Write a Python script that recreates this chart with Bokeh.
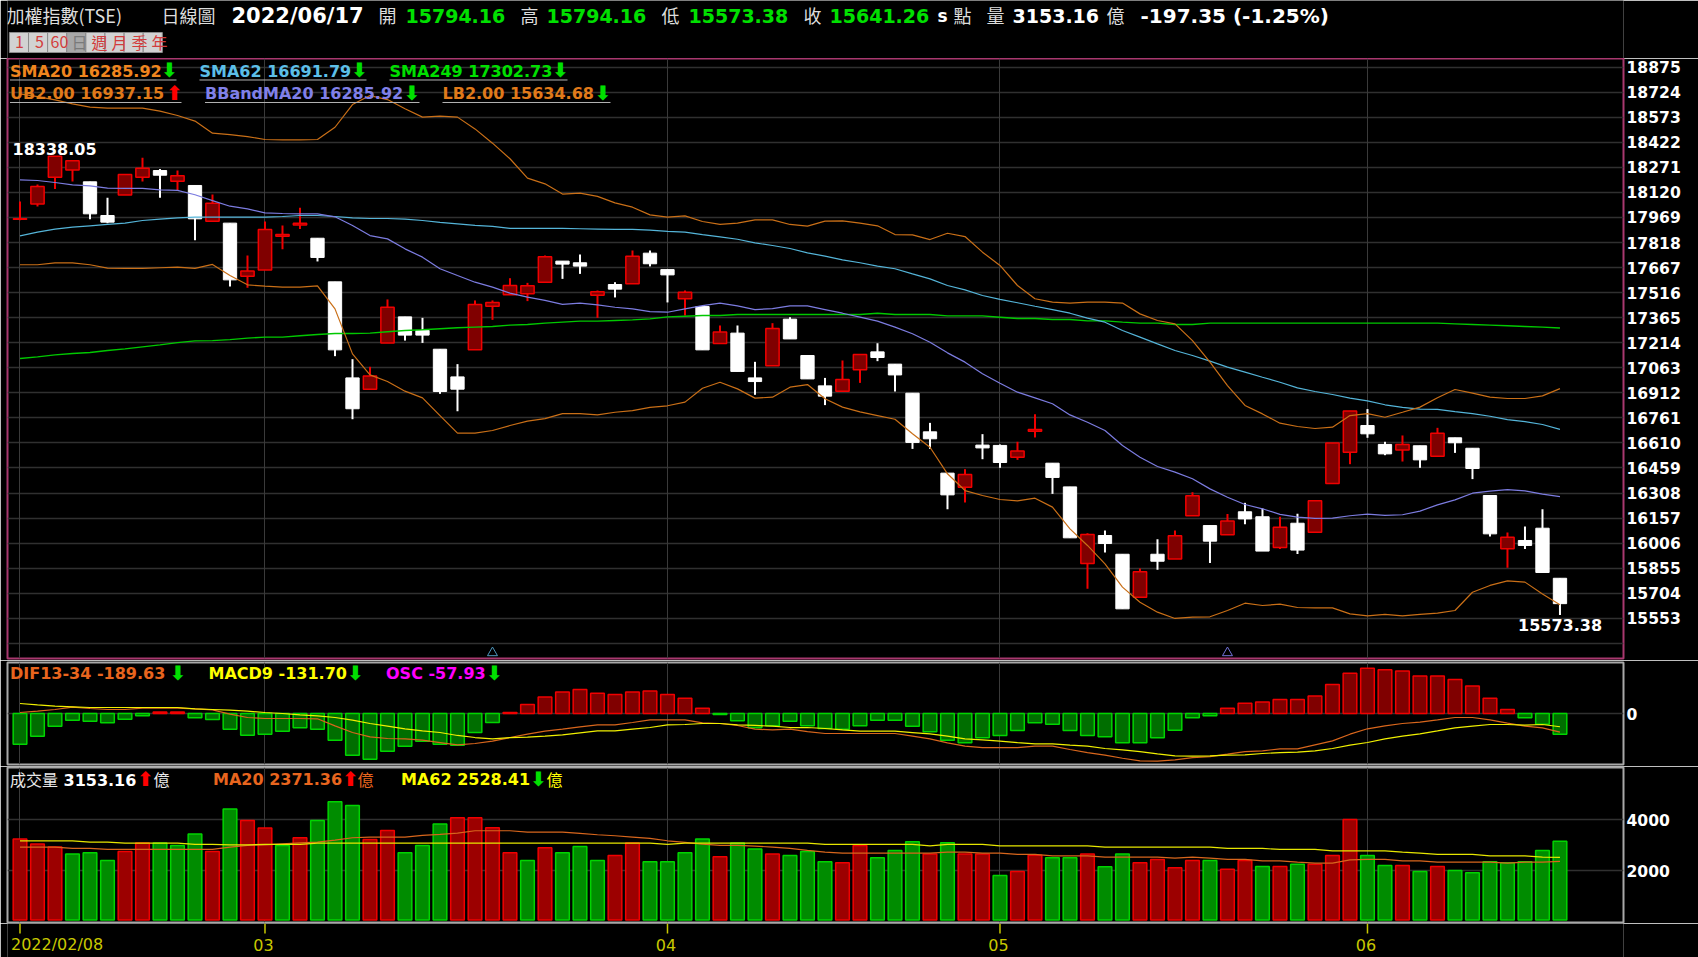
from bokeh.plotting import figure
from bokeh.layouts import column
from bokeh.models import Label, Range1d, FixedTicker, Grid
from bokeh.embed import file_html
from bokeh.resources import INLINE

# daily candles, 2022/02/08 - 2022/06/17
opens = [17958, 18051, 18212, 18256, 18184, 17981, 18104, 18212, 18252, 18188,
         18162, 17947, 17935, 17615, 17653, 17856, 17923, 17844, 17581, 17002,
         16934, 17213, 17370, 17288, 17175, 17008, 17171, 17434, 17503, 17509,
         17579, 17706, 17696, 17501, 17565, 17569, 17754, 17655, 17479, 17432,
         17209, 17272, 17002, 17075, 17356, 17137, 16954, 16922, 17051, 17159,
         17085, 16910, 16677, 16428, 16343, 16597, 16595, 16524, 16681, 16488,
         16345, 15883, 16052, 15939, 15680, 15939, 15911, 16171, 16112, 16056,
         16195, 16165, 15980, 16126, 16072, 16365, 16554, 16715, 16601, 16568,
         16593, 16530, 16641, 16578, 16293, 15972, 16022, 16096, 15794.16]
highs = [18065, 18168, 18338.05, 18311, 18184, 18088, 18228, 18329, 18262, 18252,
         18162, 18108, 17935, 17740, 17945, 17921, 18027, 17844, 17581, 17115,
         17069, 17475, 17370, 17364, 17175, 17085, 17469, 17469, 17603, 17575,
         17740, 17706, 17746, 17529, 17579, 17770, 17770, 17655, 17529, 17432,
         17318, 17318, 17099, 17332, 17368, 17137, 17002, 17107, 17143, 17211,
         17085, 16910, 16731, 16428, 16452, 16663, 16601, 16617, 16783, 16488,
         16345, 16066, 16082, 15939, 15853, 16030, 16082, 16313, 16112, 16181,
         16249, 16215, 16165, 16183, 16261, 16609, 16803, 16814, 16617, 16655,
         16593, 16701, 16641, 16578, 16293, 16070, 16106, 16211, 15794.16]
lows = [17953, 18035, 18140, 18186, 17959, 17935, 18104, 18186, 18088, 18128,
        17832, 17947, 17553, 17545, 17653, 17778, 17899, 17704, 17133, 16753,
        16934, 17213, 17227, 17213, 16906, 16801, 17171, 17352, 17503, 17465,
        17579, 17599, 17629, 17364, 17487, 17569, 17674, 17457, 17378, 17171,
        17209, 17041, 16900, 17075, 17237, 16996, 16838, 16922, 16972, 17103,
        16920, 16574, 16574, 16211, 16251, 16512, 16460, 16508, 16643, 16303,
        16038, 15731, 15950, 15610, 15680, 15845, 15911, 16171, 15887, 16056,
        16120, 15958, 15970, 15941, 16072, 16365, 16482, 16641, 16536, 16498,
        16460, 16530, 16550, 16392, 16046, 15857, 15970, 15829, 15573.38]
closes = [17962, 18156, 18338, 18311, 17991, 17941, 18228, 18266, 18224, 18220,
          17961, 18055, 17593, 17647, 17897, 17866, 17935, 17728, 17171, 16816,
          17014, 17428, 17260, 17260, 16920, 16934, 17445, 17457, 17559, 17557,
          17732, 17688, 17676, 17521, 17537, 17736, 17690, 17623, 17519, 17171,
          17278, 17041, 16980, 17300, 17237, 16996, 16892, 16992, 17143, 17125,
          17020, 16613, 16635, 16297, 16420, 16580, 16492, 16562, 16691, 16402,
          16038, 16058, 16004, 15610, 15833, 15897, 16050, 16291, 16018, 16140,
          16152, 15958, 16102, 15964, 16261, 16609, 16803, 16665, 16544, 16601,
          16508, 16669, 16611, 16456, 16062, 16042, 15992, 15829, 15641.26]

ub = [18714, 18698, 18678, 18654, 18634, 18628, 18628, 18628, 18610, 18584,
      18550, 18477, 18469, 18457, 18439, 18437, 18437, 18439, 18513, 18650,
      18704, 18680, 18624, 18574, 18580, 18574, 18503, 18417, 18323, 18206,
      18172, 18110, 18116, 18096, 18057, 18031, 17985, 17971, 17979, 17945,
      17927, 17935, 17955, 17955, 17927, 17917, 17947, 17949, 17935, 17919,
      17866, 17864, 17836, 17874, 17854, 17760, 17680, 17559, 17479, 17459,
      17453, 17459, 17459, 17453, 17388, 17348, 17328, 17227, 17097, 16956,
      16836, 16785, 16729, 16709, 16697, 16705, 16775, 16787, 16765, 16795,
      16826, 16882, 16932, 16910, 16886, 16878, 16878, 16894, 16937.15]
lb = [17684, 17684, 17696, 17696, 17684, 17664, 17662, 17662, 17666, 17670,
      17662, 17686, 17619, 17563, 17555, 17549, 17549, 17557, 17418, 17147,
      17020, 16980, 16922, 16882, 16775, 16669, 16669, 16685, 16715, 16741,
      16757, 16787, 16787, 16779, 16795, 16805, 16824, 16834, 16856, 16940,
      16976, 16936, 16880, 16886, 16946, 16962, 16876, 16826, 16797, 16775,
      16753, 16665, 16584, 16424, 16323, 16293, 16269, 16261, 16277, 16223,
      16092, 15992, 15881, 15741, 15650, 15590, 15552, 15560, 15562, 15600,
      15644, 15630, 15638, 15618, 15616, 15616, 15580, 15568, 15576, 15568,
      15576, 15584, 15600, 15710, 15751, 15779, 15771, 15700, 15634.68]
sma20 = [18196, 18192, 18180, 18166, 18160, 18146, 18144, 18144, 18136, 18132,
         18106, 18071, 18037, 18021, 17997, 17993, 17991, 17991, 17973, 17921,
         17860, 17840, 17780, 17730, 17660, 17619, 17579, 17549, 17513, 17489,
         17469, 17445, 17453, 17442, 17428, 17418, 17402, 17398, 17418, 17438,
         17453, 17436, 17414, 17420, 17436, 17436, 17414, 17392, 17368, 17344,
         17308, 17268, 17217, 17153, 17097, 17027, 16970, 16916, 16882, 16846,
         16779, 16735, 16685, 16595, 16524, 16468, 16434, 16394, 16333, 16283,
         16239, 16213, 16179, 16163, 16155, 16157, 16171, 16181, 16173, 16177,
         16199, 16237, 16267, 16307, 16319, 16329, 16321, 16301, 16285.92]
sma62 = [17858, 17881, 17899, 17911, 17919, 17927, 17935, 17951, 17959, 17967,
         17971, 17971, 17971, 17971, 17971, 17975, 17981, 17981, 17975, 17967,
         17963, 17963, 17959, 17951, 17939, 17931, 17921, 17915, 17903, 17903,
         17903, 17903, 17901, 17899, 17897, 17897, 17893, 17885, 17881, 17866,
         17852, 17838, 17816, 17800, 17782, 17756, 17736, 17714, 17696, 17676,
         17660, 17629, 17599, 17559, 17533, 17499, 17475, 17455, 17434, 17414,
         17392, 17362, 17338, 17288, 17248, 17207, 17167, 17137, 17103, 17067,
         17037, 17006, 16976, 16942, 16920, 16902, 16880, 16864, 16840, 16824,
         16814, 16812, 16799, 16787, 16771, 16751, 16739, 16721, 16691.79]
sma249 = [17119, 17129, 17141, 17149, 17155, 17167, 17177, 17189, 17201, 17215,
          17225, 17227, 17233, 17242, 17248, 17248, 17256, 17264, 17270, 17270,
          17272, 17280, 17288, 17292, 17298, 17304, 17308, 17312, 17320, 17324,
          17332, 17338, 17344, 17344, 17348, 17352, 17358, 17370, 17374, 17378,
          17378, 17384, 17384, 17384, 17384, 17384, 17384, 17384, 17384, 17392,
          17384, 17384, 17384, 17376, 17376, 17376, 17368, 17360, 17360, 17354,
          17354, 17346, 17346, 17338, 17332, 17332, 17324, 17324, 17332, 17332,
          17332, 17332, 17332, 17332, 17332, 17332, 17332, 17332, 17332, 17332,
          17332, 17332, 17328, 17324, 17320, 17316, 17312, 17308, 17302.73]

dif = [10, 24, 41, 65, 51, 41, 41, 54, 58, 54,
       48, 37, -7, -41, -51, -51, -51, -54, -126, -194,
       -238, -255, -258, -272, -296, -320, -306, -282, -245, -211,
       -180, -160, -136, -116, -116, -92, -65, -65, -65, -95,
       -102, -122, -160, -167, -160, -184, -204, -204, -204, -204,
       -204, -231, -258, -299, -333, -347, -347, -347, -333, -333,
       -367, -398, -425, -456, -483, -486, -473, -449, -439, -415,
       -388, -381, -360, -360, -320, -279, -211, -156, -126, -102,
       -88, -65, -41, -41, -65, -99, -129, -146, -189.63]
macd = [102, 88, 75, 68, 61, 61, 61, 61, 61, 61,
        48, 41, 34, 24, 10, 0, -14, -24, -41, -68,
        -102, -129, -156, -177, -194, -224, -245, -258, -245, -241,
        -231, -218, -197, -177, -177, -160, -143, -116, -112, -102,
        -102, -116, -122, -129, -143, -143, -153, -167, -180, -180,
        -180, -194, -207, -231, -258, -269, -282, -296, -309, -309,
        -323, -333, -357, -371, -388, -411, -432, -435, -432, -425,
        -422, -408, -398, -394, -381, -357, -323, -296, -258, -231,
        -207, -177, -146, -129, -112, -112, -119, -112, -135]
osc = [-86, -64, -36, -19, -22, -26, -16, -6, 4, 4,
       -12, -17, -44, -61, -58, -50, -40, -44, -75, -117,
       -128, -106, -92, -78, -86, -89, -53, -25, 3, 25,
       46, 60, 67, 57, 53, 60, 63, 53, 43, 15,
       -3, -20, -40, -34, -22, -34, -42, -44, -34, -19,
       -19, -36, -51, -75, -82, -68, -62, -48, -26, -30,
       -48, -62, -65, -82, -82, -68, -47, -12, -6, 15,
       29, 32, 39, 39, 49, 81, 113, 127, 123, 119,
       105, 105, 95, 77, 43, 11, -12, -30, -57.93]

volume = [3237, 3042, 2925, 2652, 2704, 2405, 2756, 3081, 3081, 2990,
          3432, 2756, 4407, 3965, 3666, 2990, 3289, 3965, 4693, 4550,
          3224, 3575, 2704, 2990, 3822, 4069, 4069, 3679, 2704, 2405,
          2899, 2704, 2951, 2405, 2600, 3081, 2353, 2353, 2704, 3237,
          2548, 3081, 2847, 2652, 2600, 2756, 2353, 2314, 2990, 2509,
          2795, 3133, 2652, 3094, 2652, 2652, 1820, 1976, 2613, 2509,
          2509, 2652, 2158, 2652, 2314, 2444, 2119, 2405, 2405, 2067,
          2405, 2171, 2171, 2262, 2262, 2600, 4004, 2600, 2210, 2210,
          1976, 2171, 2015, 1924, 2353, 2314, 2353, 2795, 3153.16]
vol_side = ("RRRGGGRRGG" "GRGRRGRGGG" "RRGGGRRRRG" "RGGGRRGGGG" "RGGRGGGRRG"
            "GGRGRRGRRG" "GRGGRRRRGR" "RGRGRRRGGR" "GRGGGGGGG")
vol_ma20 = [2925, 2925, 2925, 2873, 2873, 2834, 2834, 2834, 2834, 2834,
            2834, 2834, 2925, 2990, 3016, 3055, 3094, 3120, 3198, 3289,
            3315, 3315, 3315, 3380, 3419, 3471, 3562, 3562, 3562, 3510,
            3510, 3510, 3458, 3406, 3367, 3315, 3263, 3172, 3107, 3042,
            2990, 2990, 2964, 2925, 2873, 2795, 2730, 2691, 2691, 2691,
            2691, 2691, 2691, 2730, 2730, 2691, 2691, 2639, 2639, 2587,
            2587, 2587, 2535, 2535, 2535, 2535, 2496, 2535, 2496, 2444,
            2444, 2392, 2392, 2340, 2301, 2301, 2431, 2444, 2444, 2392,
            2392, 2340, 2340, 2340, 2340, 2301, 2340, 2340, 2371.36]
vol_ma62 = [3172, 3172, 3172, 3172, 3120, 3120, 3081, 3081, 3081, 3081,
            3029, 3029, 3016, 3016, 3029, 3029, 3029, 3081, 3081, 3081,
            3081, 3081, 3081, 3081, 3081, 3081, 3081, 3081, 3081, 3081,
            3081, 3081, 3081, 3081, 3081, 3081, 3081, 3029, 3081, 3081,
            3081, 3081, 3081, 3081, 3081, 3081, 3029, 3029, 3029, 3029,
            3029, 3029, 2977, 3029, 3029, 3029, 2977, 2977, 2977, 2977,
            2977, 2977, 2925, 2925, 2925, 2925, 2925, 2925, 2925, 2873,
            2873, 2873, 2834, 2834, 2834, 2782, 2782, 2782, 2782, 2730,
            2691, 2639, 2639, 2639, 2587, 2587, 2587, 2535, 2528.41]

price_ticks = [18875, 18724, 18573, 18422, 18271, 18120, 17969, 17818, 17667, 17516, 17365,
               17214, 17063, 16912, 16761, 16610, 16459, 16308, 16157, 16006, 15855, 15704, 15553]
volume_ticks = [2000, 4000]
month_idx = [0, 14, 37, 56, 77]
month_names = ["2022/02/08", "03", "04", "05", "06"]
cross_idx = [27, 69]
cross_colors = ["#4f97bd", "#7272d8"]
period_buttons = ["1", "5", "60", "日", "週", "月", "季", "年"]

n = len(closes)
idx = list(range(n))

BOLD = "DejaVu Sans"
CJK = "Noto Sans CJK TC"
ORANGE = "#c96f17"
GRID = "#303030"
OLIVE = "#c8c800"
WIDTH = 1698
LEFT = 7
GREEN = "#00e000"
X_RANGE = (-0.714, 91.63)


def put(p, bottom, text, rx, ry, color, size=16, font=BOLD, style="bold", align="left"):
    # rx, ry are page pixels, bottom is the page y of the frame's bottom
    p.add_layout(Label(x=rx - LEFT, y=bottom - ry, x_units="screen", y_units="screen", text=text,
                       text_color=color, text_font=font, text_font_style=style,
                       text_font_size=f"{size}px", text_align=align, text_baseline="middle"))


def panel(height, y_range, top, bottom, outline):
    p = figure(width=WIDTH, height=height, output_backend="svg", toolbar_location=None,
               x_range=Range1d(*X_RANGE), y_range=y_range, y_axis_location="right", x_axis_type=None,
               min_border_left=LEFT, min_border_right=75, min_border_top=top, min_border_bottom=bottom,
               background_fill_color="black", border_fill_color="black",
               outline_line_color=outline, outline_line_width=2)
    p.yaxis.axis_line_color = None
    p.yaxis.major_tick_line_color = None
    p.yaxis.minor_tick_line_color = None
    p.yaxis.major_label_text_color = "white"
    p.yaxis.major_label_text_font = BOLD
    p.yaxis.major_label_text_font_style = "bold"
    p.yaxis.major_label_text_font_size = "15.6px"
    p.yaxis.major_label_standoff = -3
    p.ygrid.grid_line_color = GRID
    p.ygrid.grid_line_width = 1.5
    p.add_layout(Grid(dimension=0, ticker=FixedTicker(ticks=month_idx), grid_line_color="#3a3a3a", grid_line_width=1))
    return p


def strip(height, x_range, y_range, right):
    p = figure(width=WIDTH, height=height, output_backend="svg", toolbar_location=None,
               x_range=Range1d(*x_range), y_range=y_range, x_axis_type=None, y_axis_type=None,
               min_border_left=LEFT, min_border_right=right, min_border_top=0, min_border_bottom=0,
               background_fill_color="black", border_fill_color="black",
               outline_line_color=None, outline_line_alpha=0, outline_line_width=0)
    p.grid.visible = False
    return p


# header strip
head = strip(58, (7, 1698), Range1d(58, 0), 0)
hb = 58
put(head, hb, "加權指數(TSE)", 6, 14.5, "#dddddd", 18, CJK, "normal")
put(head, hb, "日線圖", 161, 14.5, "#dddddd", 18, CJK, "normal")
put(head, hb, "2022/06/17", 231, 15.5, "white", 21)
put(head, hb, "開", 378, 14.5, "#dddddd", 18, CJK, "normal")
put(head, hb, "15794.16", 405, 15.5, GREEN, 19)
put(head, hb, "高", 520, 14.5, "#dddddd", 18, CJK, "normal")
put(head, hb, "15794.16", 546, 15.5, GREEN, 19)
put(head, hb, "低", 661, 14.5, "#dddddd", 18, CJK, "normal")
put(head, hb, "15573.38", 688, 15.5, GREEN, 19)
put(head, hb, "收", 803, 14.5, "#dddddd", 18, CJK, "normal")
put(head, hb, "15641.26", 829, 15.5, GREEN, 19)
put(head, hb, "s", 937, 15.5, "white", 17)
put(head, hb, "點", 953, 14.5, "#dddddd", 18, CJK, "normal")
put(head, hb, "量", 986, 14.5, "#dddddd", 18, CJK, "normal")
put(head, hb, "3153.16", 1012, 15.5, "white", 19)
put(head, hb, "億", 1106, 14.5, "#dddddd", 18, CJK, "normal")
put(head, hb, "-197.35 (-1.25%)", 1140, 15.5, "white", 20)

btn_left = [9 + 20 * i for i in range(len(period_buttons))]
btn_fill = ["#a8a8a8" if b == "日" else "#d2d2d2" for b in period_buttons]
head.quad(left=btn_left, right=[x + 20 for x in btn_left], top=32, bottom=52,
          fill_color=btn_fill, line_color="#8c8c8c", line_width=1)
for b, x in zip(period_buttons, btn_left):
    put(head, hb, b, x + 10, 41.5, "#7a7a7a" if b == "日" else "#d23c3c", 16, CJK, "normal", "center")

# candle panel
main = panel(602, Range1d(15310.6, 18927.4), 0, 2, "#a8386f")
main.yaxis.ticker = FixedTicker(ticks=price_ticks)
main.ygrid.ticker = FixedTicker(ticks=price_ticks + [15402])

up = [i for i in idx if closes[i] >= opens[i]]
dn = [i for i in idx if closes[i] < opens[i]]
main.segment(up, [highs[i] for i in up], up, [lows[i] for i in up], line_color="#f00000", line_width=2)
main.segment(dn, [highs[i] for i in dn], dn, [lows[i] for i in dn], line_color="white", line_width=2)
main.vbar(up, 0.76, [closes[i] for i in up], [opens[i] for i in up],
          fill_color="#800000", line_color="#f00000", line_width=1.5)
main.vbar(dn, 0.76, [opens[i] for i in dn], [closes[i] for i in dn],
          fill_color="white", line_color="white", line_width=1)

main.line(idx, sma249, line_color="#00c800", line_width=1.4)
main.line(idx, sma62, line_color="#54b4d8", line_width=1.2)
main.line(idx, sma20, line_color="#7c7ce0", line_width=1.2)
main.line(idx, ub, line_color=ORANGE, line_width=1.2)
main.line(idx, lb, line_color=ORANGE, line_width=1.2)
main.scatter(cross_idx, [15345, 15345], marker="triangle", size=10, fill_alpha=0, line_color=cross_colors)

mb = 658
legend_rows = [
    ("SMA20 16285.92", 9.5, 70.5, "#f0851e", "⬇", 169, GREEN, 176),
    ("SMA62 16691.79", 199, 70.5, "#5cbfe8", "⬇", 359, GREEN, 366),
    ("SMA249 17302.73", 389, 70.5, GREEN, "⬇", 560, GREEN, 567),
    ("UB2.00 16937.15", 9.5, 93, "#e07a1a", "⬆", 174, "#ff0000", 181),
    ("BBandMA20 16285.92", 204.5, 93, "#8080e8", "⬇", 411.5, GREEN, 419),
    ("LB2.00 15634.68", 442, 93, "#e07a1a", "⬇", 602.5, GREEN, 610),
]
for text, rx, ry, color, arrow, ax, acolor, end in legend_rows:
    put(main, mb, text, rx, ry, color)
    put(main, mb, arrow, ax, ry - 1, acolor, 20, align="center")
    main.segment((rx - 19.5) / 17.5, 18875 - (ry + 9 - 66.7) * 6.028,
                 (end - 19.5) / 17.5, 18875 - (ry + 9 - 66.7) * 6.028, line_color="#b4b4b4", line_width=1)
put(main, mb, "18338.05", 12, 148, "white")
put(main, mb, "15573.38", 1517.5, 624.5, "white")

# macd panel
macd_p = panel(106, Range1d(-520, 520), 2, 2, "#a8a8a8")
macd_p.extra_y_ranges = {"osc": Range1d(-143, 143)}
macd_p.yaxis.ticker = FixedTicker(ticks=[0])
macd_p.ygrid.ticker = FixedTicker(ticks=[0])
osc_top = [max(v, 0) for v in osc]
osc_bot = [min(v, 0) for v in osc]
macd_p.vbar(idx, 0.78, osc_top, osc_bot, y_range_name="osc",
            fill_color=["#800000" if v > 0 else "#006e00" for v in osc],
            line_color=["#f00000" if v > 0 else "#00d400" for v in osc], line_width=1.5)
macd_p.line(idx, dif, line_color="#d8661c", line_width=1.2)
macd_p.line(idx, macd, line_color="#f0f000", line_width=1.2)
b2 = 764
put(macd_p, b2, "DIF13-34 -189.63", 9.5, 673, "#e8651e")
put(macd_p, b2, "⬇", 177.5, 672, GREEN, 20, align="center")
put(macd_p, b2, "MACD9 -131.70", 208, 673, "#ffff00")
put(macd_p, b2, "⬇", 355, 672, GREEN, 20, align="center")
put(macd_p, b2, "OSC -57.93", 385.5, 673, "#ff00ff")
put(macd_p, b2, "⬇", 494, 672, GREEN, 20, align="center")

# volume panel
vol = panel(157, Range1d(-12, 6027), 1, 1, "#a8a8a8")
vol.yaxis.ticker = FixedTicker(ticks=volume_ticks)
vol.ygrid.ticker = FixedTicker(ticks=volume_ticks)
vol.vbar(idx, 0.78, volume, 90,
         fill_color=["#9c0000" if s == "R" else "#008c00" for s in vol_side],
         line_color=["#f00000" if s == "R" else "#00d400" for s in vol_side], line_width=1.5)
vol.line(idx, vol_ma20, line_color="#d8661c", line_width=1.2)
vol.line(idx, vol_ma62, line_color="#e6e600", line_width=1.2)
b3 = 922
put(vol, b3, "成交量", 9.5, 778, "#e8e8e8", 16, CJK, "normal")
put(vol, b3, "3153.16", 63, 779, "white")
put(vol, b3, "⬆", 145, 778, "#ff0000", 20, align="center")
put(vol, b3, "億", 153, 778, "#e8e8e8", 16, CJK, "normal")
put(vol, b3, "MA20 2371.36", 212.5, 779, "#e8651e")
put(vol, b3, "⬆", 350, 778, "#ff0000", 20, align="center")
put(vol, b3, "億", 357, 778, "#e8651e", 16, CJK, "normal")
put(vol, b3, "MA62 2528.41", 400.5, 779, "#ffff00")
put(vol, b3, "⬇", 538, 778, GREEN, 20, align="center")
put(vol, b3, "億", 546, 778, "#ffff00", 16, CJK, "normal")

# month ticks and their labels under the volume panel
foot = strip(34, X_RANGE, Range1d(34, 0), 75)
foot.segment(month_idx, 0, month_idx, 10, line_color=OLIVE, line_width=1.5)
fb = 957
for i, name in zip(month_idx, month_names):
    if i == 0:
        put(foot, fb, name, 10.5, 944, OLIVE, 16, "DejaVu Sans", "normal")
    else:
        put(foot, fb, name, 19.5 + 17.5 * i - 1.5, 944, OLIVE, 16, "DejaVu Sans", "normal", "center")

page = column(head, main, macd_p, vol, foot, spacing=0)

open("out.html", "w").write(file_html(page, INLINE))
